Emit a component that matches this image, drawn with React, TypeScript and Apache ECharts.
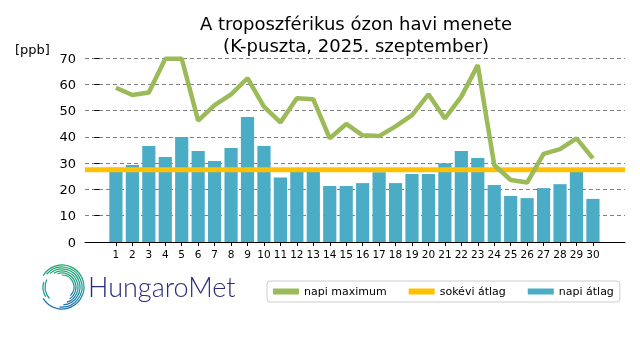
import React, { useEffect, useRef } from "react";
import * as echarts from "echarts";

const days = Array.from({ length: 30 }, (_, i) => i + 1);
const dailyMean = [28.2, 29.3, 36.5, 32.3, 39.9, 34.6, 30.8, 35.8, 47.6, 36.5, 24.5, 27.3, 27.5, 21.3, 21.3, 22.4, 26.5, 22.4, 25.9, 25.9, 30.0, 34.6, 32.0, 21.7, 17.5, 16.7, 20.5, 22.0, 27.0, 16.4];
const dailyMax = [58.7, 55.9, 56.9, 69.7, 69.7, 46.2, 52.1, 56.2, 62.3, 51.5, 45.5, 54.7, 54.3, 39.4, 44.9, 40.6, 40.3, 44.0, 48.3, 56.2, 47.0, 55.3, 67.3, 29.3, 23.6, 22.6, 33.5, 35.3, 39.4, 31.8];
const longTermMean = 27.5;
const xRange = [-0.88, 31.95];
const yTicks = [0, 10, 20, 30, 40, 50, 60, 70];

const FONT = "DejaVu Sans";

export default function App() {
  const ref = useRef<HTMLDivElement>(null);
  useEffect(() => {
    const chart = echarts.init(ref.current!, null, { renderer: "svg" });
    const cx = 62, cy = 287;
    const arcs: any[] = [];
    const grad = () =>
      new echarts.graphic.LinearGradient(0, 0, 0, 1, [
        { offset: 0, color: "#1fa36a" },
        { offset: 0.5, color: "#139a9a" },
        { offset: 1, color: "#1f6fb0" },
      ]);
    const rings = [
      { r: 22, s: -2.6, e: 1.9 },
      { r: 20, s: -2.45, e: 1.7 },
      { r: 18, s: -2.3, e: 1.5 },
      { r: 16, s: -2.1, e: 1.25 },
      { r: 14, s: -1.9, e: 1.0 },
      { r: 12, s: -1.6, e: 0.8 },
    ];
    rings.forEach((g) => {
      arcs.push({
        type: "arc",
        shape: { cx, cy, r: g.r, startAngle: g.s, endAngle: g.e },
        style: { fill: "none", lineWidth: 1.2, stroke: grad() },
      });
    });
    arcs.push({
      type: "arc",
      shape: { cx, cy, r: 22, startAngle: 1.9, endAngle: 2.6 },
      style: { fill: "none", lineWidth: 1.2, stroke: "#1f6fb0" },
    });
    arcs.push({
      type: "arc",
      shape: { cx, cy, r: 19, startAngle: 2.6, endAngle: 3.4 },
      style: { fill: "none", lineWidth: 1.2, stroke: "#1a9a9a" },
    });
    arcs.push({
      type: "arc",
      shape: { cx, cy, r: 17, startAngle: 2.4, endAngle: 3.6 },
      style: { fill: "none", lineWidth: 1.2, stroke: "#1a9a9a" },
    });

    chart.setOption({
      animation: false,
      title: {
        text: "A troposzférikus ózon havi menete\n(K-puszta, 2025. szeptember)",
        left: 351,
        top: 7,
        textAlign: "center",
        textStyle: { fontFamily: FONT, fontSize: 18, fontWeight: "normal", color: "#000", lineHeight: 22 },
      },
      grid: { left: 85, right: 15, top: 58, bottom: 118 },
      legend: {
        left: 267,
        top: 281,
        orient: "horizontal",
        itemWidth: 26,
        itemHeight: 6,
        itemGap: 22,
        padding: [5, 6, 5, 6],
        borderColor: "#cccccc",
        borderWidth: 1,
        borderRadius: 3,
        icon: "rect",
        textStyle: { fontFamily: FONT, fontSize: 11, color: "#000" },
        data: ["napi maximum", "sokévi átlag", "napi átlag"],
      },
      xAxis: {
        type: "value",
        min: xRange[0],
        max: xRange[1],
        splitLine: { show: false },
        axisLine: { show: true, onZero: false, lineStyle: { color: "#000", width: 1 } },
        axisTick: { show: true, customValues: days, length: 4, lineStyle: { color: "#000" } },
        axisLabel: { customValues: days, fontFamily: FONT, fontSize: 10.5, color: "#000", margin: 6 },
      },
      yAxis: {
        type: "value",
        min: 0,
        max: 70,
        interval: 10,
        axisLine: { show: false },
        axisTick: { show: true, length: 5, lineStyle: { color: "#000" } },
        axisLabel: { fontFamily: FONT, fontSize: 13, color: "#000", margin: 9, customValues: yTicks },
        splitLine: { show: true, lineStyle: { color: "#808080", type: [4, 3], width: 1 } },
      },
      graphic: [
        { type: "text", left: 15, top: 43, style: { text: "[ppb]", font: `13px '${FONT}'`, fill: "#000" } },
        {
          type: "text",
          left: 88,
          top: 273,
          style: { text: "HungaroMet", font: `300 27px 'Lato'`, fill: "#2b2c7c" },
        },
        { type: "group", children: arcs },
      ],
      series: [
        {
          name: "napi átlag",
          type: "bar",
          data: days.map((d, i) => [d, dailyMean[i]]),
          barWidth: 13.2,
          itemStyle: { color: "#4bacc6" },
          z: 1,
        },
        {
          name: "napi maximum",
          type: "line",
          data: days.map((d, i) => [d, dailyMax[i]]),
          symbol: "none",
          lineStyle: { color: "#9bbb59", width: 4.5 },
          itemStyle: { color: "#9bbb59" },
          z: 3,
        },
        {
          name: "sokévi átlag",
          type: "line",
          data: [[xRange[0], longTermMean], [xRange[1], longTermMean]],
          symbol: "none",
          lineStyle: { color: "#ffc000", width: 5 },
          itemStyle: { color: "#ffc000" },
          z: 2,
        },
      ],
    });
    return () => chart.dispose();
  }, []);
  return <div ref={ref} style={{ position: "fixed", left: 0, top: 0, width: 640, height: 360 }} />;
}
